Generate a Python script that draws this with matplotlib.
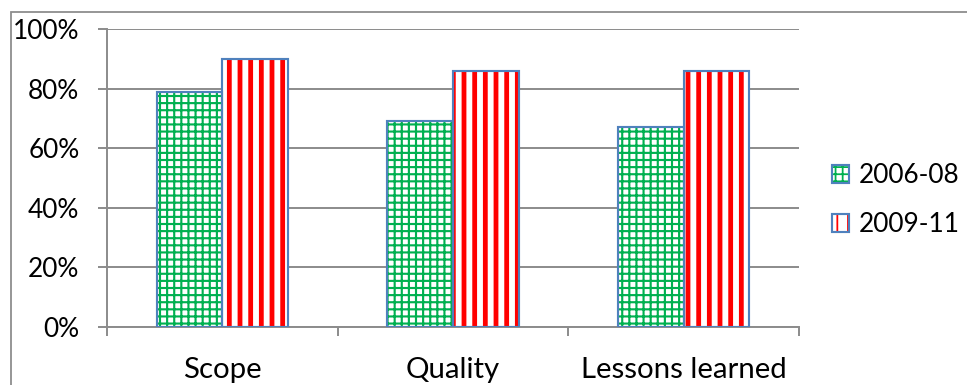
import matplotlib
matplotlib.use("Agg")
import matplotlib.pyplot as plt
import numpy as np
from matplotlib.patches import Rectangle
from matplotlib.ticker import PercentFormatter

# share of reports rated satisfactory, by criterion and period
CATEGORIES = ["Scope", "Quality", "Lessons learned"]
PERIODS = ["2006-08", "2009-11"]
SHARE_0608 = [0.79, 0.69, 0.67]
SHARE_0911 = [0.90, 0.86, 0.86]

GREEN = "#00B050"
RED = "#FF0000"
BORDER = "#4F81BD"
GRID = "#8C8C8C"

DPI = 128
W, H = 967, 385

plt.rcParams["font.family"] = ["Lato", "DejaVu Sans"]
plt.rcParams["font.size"] = 16.5

fig = plt.figure(figsize=(W / DPI, H / DPI), dpi=DPI)
ax = fig.add_axes([107 / W, 1 - 327 / H, (799 - 107) / W, (327 - 29) / H])

x = np.arange(len(CATEGORIES))
w = 0.285

with plt.rc_context({"hatch.linewidth": 1.2}):
    g_fill = ax.bar(x - w / 2, SHARE_0608, w, facecolor="white", edgecolor=GREEN,
                    hatch="+++", linewidth=0, zorder=2)
with plt.rc_context({"hatch.linewidth": 2.7}):
    r_fill = ax.bar(x + w / 2, SHARE_0911, w, facecolor="white", edgecolor=RED,
                    hatch="||", linewidth=0, zorder=2)
g_edge = ax.bar(x - w / 2, SHARE_0608, w, fill=False, edgecolor=BORDER,
                linewidth=1.2, zorder=3)
r_edge = ax.bar(x + w / 2, SHARE_0911, w, fill=False, edgecolor=BORDER,
                linewidth=1.2, zorder=3)

ax.set_xlim(-0.5, len(CATEGORIES) - 0.5)
ax.set_ylim(0, 1)
ax.set_yticks(np.linspace(0, 1, 6))
ax.yaxis.set_major_formatter(PercentFormatter(1.0, decimals=0))
ax.yaxis.grid(True, color=GRID, linewidth=1.1, zorder=0)
ax.set_axisbelow(True)

ax.set_xticks(x)
ax.set_xticklabels(CATEGORIES)
ax.set_xticks(np.arange(len(CATEGORIES) + 1) - 0.5, minor=True)
ax.tick_params(axis="x", which="major", length=0, pad=17)
ax.tick_params(axis="x", which="minor", length=5, width=1.1, color=GRID)
ax.tick_params(axis="y", length=5, width=1.1, color=GRID, pad=10.5,
               labelsize=14.8)

for side in ("top", "right"):
    ax.spines[side].set_visible(False)
for side in ("left", "bottom"):
    ax.spines[side].set_color(GRID)
    ax.spines[side].set_linewidth(1.1)

leg = ax.legend([(g_fill[0], g_edge[0]), (r_fill[0], r_edge[0])], PERIODS,
                loc="center left", bbox_to_anchor=(1.028, 0.426), frameon=False,
                fontsize=14.8, handlelength=0.68, handleheight=0.68,
                handletextpad=0.35, labelspacing=0.9, borderpad=0)

# chart area frame
fig.add_artist(Rectangle((11 / W, -0.5), 2, 1.5 - 12 / H, transform=fig.transFigure,
                         fill=False, edgecolor=GRID, linewidth=1.0))

fig.savefig("out.png", dpi=DPI)
